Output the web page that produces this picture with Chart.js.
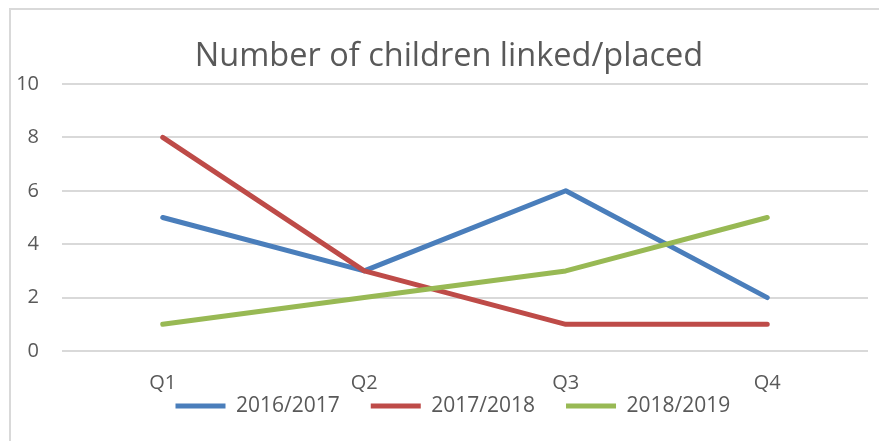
<!DOCTYPE html>
<html>
<head>
<meta charset="utf-8">
<script src="https://cdn.jsdelivr.net/npm/chart.js@4/dist/chart.umd.min.js"></script>
<style>
  html, body { margin: 0; padding: 0; background: #ffffff; }
  #wrap { position: relative; width: 879px; height: 441px; }
</style>
</head>
<body>
<div id="wrap"><canvas id="chart" width="879" height="441"></canvas></div>
<script>
// Quarterly counts per financial year
const quarters = ['Q1', 'Q2', 'Q3', 'Q4'];
const seriesNames = ['2016/2017', '2017/2018', '2018/2019'];
const values2016 = [5, 3, 6, 2];
const values2017 = [8, 3, 1, 1];
const values2018 = [1, 2, 3, 5];
const yTickValues = [0, 2, 4, 6, 8, 10];

const colors = ['#4A7EBB', '#BE4B48', '#98B954'];
const textColor = '#595959';
const gridColor = '#d9d9d9';
const fontFamily = '"Open Sans", Lato, sans-serif';

// Outer frame of the chart object
const framePlugin = {
  id: 'frame',
  beforeDraw(chart) {
    const ctx = chart.ctx;
    ctx.save();
    ctx.fillStyle = '#ffffff';
    ctx.fillRect(0, 0, chart.width, chart.height);
    ctx.strokeStyle = gridColor;
    ctx.lineWidth = 2;
    ctx.strokeRect(10, 9, chart.width + 20, chart.height + 20);
    ctx.restore();
  }
};

// Centre the title over the whole frame and put the legend row under the axis labels
const blockPlacement = {
  id: 'blockPlacement',
  afterLayout(chart) {
    const tb = chart.titleBlock;
    if (tb) { tb.left += 7; tb.right += 7; }
    const lg = chart.legend;
    if (!lg) return;
    const pad = lg.options.labels.padding;
    const fs = lg.options.labels.font.size;
    const w = lg.right - lg.left;
    lg.left = 175.5 - pad;
    lg.right = lg.left + w;
    lg.top = 406 - pad - fs / 2;
    lg.bottom = lg.top + 2 * pad + fs;
  }
};

const datasets = [values2016, values2017, values2018].map((vals, i) => ({
  label: seriesNames[i],
  data: vals,
  borderColor: colors[i],
  backgroundColor: colors[i],
  borderWidth: 5,
  borderCapStyle: 'round',
  borderJoinStyle: 'round',
  pointRadius: 0,
  pointHoverRadius: 0,
  tension: 0,
  fill: false,
  order: 3 - i
}));

new Chart(document.getElementById('chart'), {
  type: 'line',
  data: { labels: quarters, datasets },
  plugins: [framePlugin, blockPlacement],
  options: {
    responsive: false,
    animation: false,
    devicePixelRatio: 1,
    layout: { padding: { left: 16, right: 11, top: 0, bottom: 0 } },
    plugins: {
      tooltip: { enabled: false },
      title: {
        display: true,
        text: 'Number of children linked/placed',
        color: textColor,
        font: { family: fontFamily, size: 32.5, weight: 'normal' },
        padding: { top: 37, bottom: 8 }
      },
      legend: {
        display: true,
        position: 'bottom',
        align: 'start',
        maxHeight: 1,
        labels: {
          color: textColor,
          font: { family: fontFamily, size: 21 },
          usePointStyle: true,
          pointStyle: 'line',
          pointStyleWidth: 50,
          padding: 31,
          sort: (a, b) => a.datasetIndex - b.datasetIndex
        }
      }
    },
    scales: {
      x: {
        type: 'category',
        offset: true,
        afterFit(scale) { scale.height = 89; },
        grid: { display: false, drawTicks: false },
        border: { display: false },
        ticks: {
          color: textColor,
          font: { family: fontFamily, size: 20 },
          padding: 20,
          maxRotation: 0,
          autoSkip: false
        }
      },
      y: {
        min: 0,
        max: 10,
        afterBuildTicks(scale) {
          scale.ticks = yTickValues.map(v => ({ value: v }));
        },
        afterFit(scale) { scale.width = 46; },
        grid: { color: gridColor, lineWidth: 2, drawTicks: false },
        border: { display: false },
        ticks: {
          color: textColor,
          font: { family: fontFamily, size: 20 },
          padding: 23
        }
      }
    }
  }
});
</script>
</body>
</html>
